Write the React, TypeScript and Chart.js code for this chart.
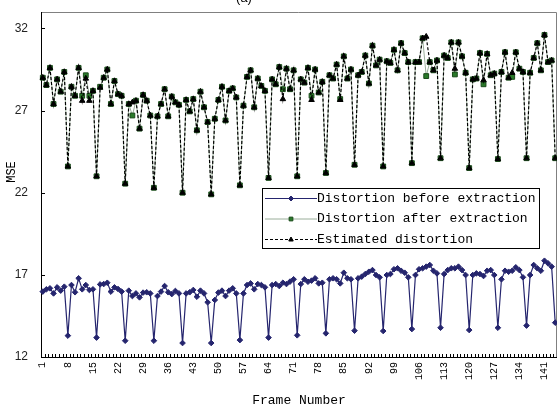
import React, { useEffect, useRef } from 'react';
import { Chart, registerables } from 'chart.js';
Chart.register(...registerables);

// Frame numbers (categories)
const frames: string[] = Array.from({ length: 144 }, (_, i) => String(i + 1));
// Frames that carry a tick label
const labelledFrames = [1, 8, 15, 22, 29, 36, 43, 50, 57, 64, 71, 78, 85, 92, 99, 106, 113, 120, 127, 134, 141];
const yTicks = [12, 17, 22, 27, 32];

const seriesLabels = ['Distortion before extraction', 'Distortion after extraction', 'Estimated distortion'];
const yTitle = 'MSE';
const xTitle = 'Frame Number';

const beforeExtraction = [
  15.98, 16.12, 16.18, 15.87, 16.24, 16.04, 16.28, 13.3,
  16.38, 15.94, 16.79, 16.12, 16.38, 16.08, 16.12, 13.18,
  16.42, 16.44, 16.52, 15.98, 16.24, 16.14, 15.98, 12.99,
  16.04, 15.71, 15.87, 15.63, 15.92, 15.94, 15.87, 12.99,
  15.71, 15.98, 16.32, 15.94, 15.83, 16.02, 15.87, 12.85,
  15.87, 15.94, 16.08, 15.67, 16.04, 15.87, 15.33, 12.85,
  15.47, 15.92, 16.04, 15.71, 16.04, 16.18, 15.87, 13.03,
  15.87, 16.38, 16.48, 16.12, 16.44, 16.38, 16.24, 13.18,
  16.38, 16.44, 16.32, 16.52, 16.44, 16.59, 16.73, 13.32,
  16.44, 16.73, 16.58, 16.65, 16.79, 16.48, 16.52, 13.44,
  16.73, 16.79, 16.73, 16.48, 17.13, 16.79, 16.73, 13.6,
  16.79, 16.89, 17.05, 17.19, 17.29, 16.99, 16.85, 13.58,
  16.99, 17.05, 17.34, 17.4, 17.25, 17.13, 16.85, 13.7,
  16.99, 17.34, 17.4, 17.5, 17.6, 17.25, 17.09, 13.78,
  17.05, 17.29, 17.4, 17.4, 17.5, 17.29, 16.99, 13.64,
  16.99, 17.09, 17.05, 16.93, 17.25, 17.29, 16.99, 13.78,
  16.73, 17.25, 17.19, 17.25, 17.46, 17.29, 16.85, 13.91,
  16.99, 17.6, 17.4, 17.25, 17.86, 17.7, 17.5, 14.09,
];

const afterExtraction = [
  29.0, 28.55, 29.6, 27.4, 28.9, 28.15, 29.35, 23.6,
  28.45, 27.9, 29.6, 27.9, 29.15, 27.9, 28.2, 23.0,
  28.45, 29.0, 29.5, 27.4, 28.8, 28.0, 27.9, 22.55,
  27.4, 26.7, 27.6, 25.9, 27.95, 27.6, 26.7, 22.3,
  26.65, 27.4, 28.3, 26.65, 27.85, 27.5, 27.35, 22.0,
  27.65, 26.95, 27.7, 25.8, 28.15, 27.2, 26.3, 21.9,
  26.5, 27.65, 28.45, 26.4, 28.2, 28.35, 27.8, 22.45,
  27.3, 29.05, 29.45, 27.2, 28.95, 28.5, 28.2, 22.9,
  28.9, 28.6, 29.65, 28.3, 29.55, 28.3, 29.45, 23.0,
  28.9, 28.7, 29.6, 27.9, 29.5, 28.1, 28.75, 23.2,
  29.15, 28.95, 29.8, 27.7, 30.3, 28.95, 29.5, 23.7,
  29.15, 29.35, 30.35, 28.65, 30.95, 29.75, 30.1, 23.6,
  30.0, 29.9, 30.7, 29.45, 31.1, 30.5, 29.95, 23.8,
  29.95, 29.95, 31.4, 29.1, 29.95, 29.45, 30.05, 24.1,
  30.35, 30.2, 31.15, 29.2, 31.15, 30.3, 29.3, 23.5,
  28.9, 28.95, 30.5, 28.6, 30.45, 29.15, 29.25, 24.05,
  29.35, 30.55, 29.0, 29.05, 30.55, 29.55, 29.35, 24.1,
  29.3, 30.2, 31.1, 29.45, 31.6, 29.95, 30.05, 24.1,
];

const estimated = [
  29.0, 28.55, 29.6, 27.4, 28.9, 28.15, 29.35, 23.6,
  28.45, 27.9, 29.6, 27.6, 28.95, 27.6, 28.2, 23.0,
  28.4, 29.0, 29.5, 27.4, 28.8, 28.0, 27.9, 22.55,
  27.4, 27.5, 27.6, 25.9, 27.95, 27.6, 26.7, 22.3,
  26.65, 27.4, 28.3, 26.65, 27.85, 27.5, 27.35, 22.0,
  27.65, 26.95, 27.7, 25.8, 28.15, 27.2, 26.3, 21.9,
  26.5, 27.65, 28.45, 26.4, 28.2, 28.35, 27.8, 22.45,
  27.3, 29.05, 29.45, 27.2, 28.95, 28.5, 28.2, 22.9,
  28.9, 28.6, 29.65, 27.7, 29.55, 28.3, 29.45, 23.0,
  28.9, 28.7, 29.6, 27.65, 29.5, 28.1, 28.75, 23.2,
  29.15, 28.95, 29.8, 27.65, 30.3, 28.95, 29.5, 23.7,
  29.15, 29.35, 30.35, 28.65, 30.95, 29.75, 30.1, 23.6,
  30.0, 29.9, 30.7, 29.45, 31.1, 30.5, 29.95, 23.8,
  29.95, 29.95, 31.4, 31.5, 29.95, 29.45, 30.05, 24.1,
  30.35, 30.2, 31.15, 29.55, 31.15, 30.3, 29.3, 23.5,
  28.9, 28.95, 30.5, 28.85, 30.45, 29.15, 29.25, 24.05,
  29.35, 30.55, 29.0, 29.3, 30.55, 29.55, 29.35, 24.1,
  29.3, 30.2, 31.1, 29.45, 31.6, 29.95, 30.05, 24.1,
];

const NAVY = '#25256e';
const GREEN_FILL = '#2a7a2a';
const GREEN_EDGE = '#1a4a1a';
const GREEN_LINE = '#9aae9a';

function drawMarker(ctx: CanvasRenderingContext2D, style: string, x: number, y: number, r: number, fill: string, stroke: string) {
  ctx.save();
  ctx.fillStyle = fill;
  ctx.strokeStyle = stroke;
  ctx.lineWidth = 1;
  ctx.setLineDash([]);
  ctx.beginPath();
  if (style === 'rectRot') {
    ctx.moveTo(x, y - r);
    ctx.lineTo(x + r, y);
    ctx.lineTo(x, y + r);
    ctx.lineTo(x - r, y);
  } else if (style === 'rect') {
    ctx.rect(x - r * 0.75, y - r * 0.75, r * 1.5, r * 1.5);
  } else {
    ctx.moveTo(x, y - r);
    ctx.lineTo(x + r * 0.9, y + r * 0.6);
    ctx.lineTo(x - r * 0.9, y + r * 0.6);
  }
  ctx.closePath();
  ctx.fill();
  ctx.stroke();
  ctx.restore();
}

const framePlugin = {
  id: 'frameDecor',
  beforeDatasetsDraw(chart: any) {
    const { ctx, chartArea: a, scales } = chart;
    const x = scales.x;
    const y = scales.y;
    ctx.save();
    // grey plot border top / right
    ctx.strokeStyle = '#808080';
    ctx.lineWidth = 1;
    ctx.beginPath();
    ctx.moveTo(a.left, a.top + 0.5);
    ctx.lineTo(a.right - 0.5, a.top + 0.5);
    ctx.lineTo(a.right - 0.5, a.bottom);
    ctx.stroke();
    // black axes
    ctx.strokeStyle = '#000';
    ctx.beginPath();
    ctx.moveTo(a.left + 0.5, a.top);
    ctx.lineTo(a.left + 0.5, a.bottom + 0.5);
    ctx.lineTo(a.right, a.bottom + 0.5);
    ctx.stroke();
    // minor ticks at category boundaries (inside)
    ctx.beginPath();
    for (let i = 0; i <= frames.length; i++) {
      const px = Math.round(x.getPixelForValue(i - 0.5)) + 0.5;
      ctx.moveTo(px, a.bottom);
      ctx.lineTo(px, a.bottom - 3);
    }
    yTicks.forEach((v) => {
      const py = Math.round(y.getPixelForValue(v)) + 0.5;
      ctx.moveTo(a.left, py);
      ctx.lineTo(a.left + 4, py);
    });
    ctx.stroke();
    // partially visible title
    ctx.fillStyle = '#000';
    ctx.font = '13px "Liberation Sans"';
    ctx.textAlign = 'center';
    ctx.textBaseline = 'alphabetic';
    ctx.fillText('(a)', 244, 2);
    // y axis title
    ctx.save();
    ctx.translate(12, 172);
    ctx.rotate(-Math.PI / 2);
    ctx.font = '12px "Liberation Mono"';
    ctx.textAlign = 'center';
    ctx.textBaseline = 'middle';
    ctx.fillText(yTitle, 0, 0);
    ctx.restore();
    ctx.restore();
  },
};

const legendPlugin = {
  id: 'boxLegend',
  afterDraw(chart: any) {
    const { ctx } = chart;
    const left = 262, top = 188, w = 278, h = 61;
    ctx.save();
    ctx.fillStyle = '#fff';
    ctx.fillRect(left, top, w, h);
    ctx.strokeStyle = '#000';
    ctx.lineWidth = 1;
    ctx.strokeRect(left + 0.5, top + 0.5, w - 1, h - 1);
    const sorted = [...chart.data.datasets].sort((a: any, b: any) => b.order - a.order);
    sorted.forEach((ds: any, i: number) => {
      const yy = top + 10.5 + i * 20.5;
      ctx.strokeStyle = ds.borderColor;
      ctx.lineWidth = ds.borderWidth;
      ctx.setLineDash(ds.borderDash || []);
      ctx.beginPath();
      ctx.moveTo(left + 3, yy);
      ctx.lineTo(left + 55, yy);
      ctx.stroke();
      ctx.setLineDash([]);
      drawMarker(ctx, ds.pointStyle, left + 29, yy, 2.5, ds.pointBackgroundColor, ds.pointBorderColor);
      ctx.fillStyle = '#000';
      ctx.font = '13px "Liberation Mono"';
      ctx.textAlign = 'left';
      ctx.textBaseline = 'middle';
      ctx.fillText(ds.label, left + 55, yy);
    });
    ctx.restore();
  },
};

export default function App() {
  const ref = useRef<HTMLCanvasElement | null>(null);
  useEffect(() => {
    document.body.style.margin = '0';
    if (!ref.current) return;
    const chart = new Chart(ref.current, {
      type: 'line',
      data: {
        labels: frames,
        datasets: [
          {
            label: seriesLabels[0],
            data: beforeExtraction,
            order: 2,
            borderColor: NAVY,
            borderWidth: 1.2,
            pointStyle: 'rectRot',
            pointRadius: 2.8,
            pointBackgroundColor: NAVY,
            pointBorderColor: NAVY,
            pointBorderWidth: 1,
            tension: 0,
          },
          {
            label: seriesLabels[1],
            data: afterExtraction,
            order: 1,
            borderColor: GREEN_LINE,
            borderWidth: 1,
            pointStyle: 'rect',
            pointRadius: 3.4,
            pointBackgroundColor: GREEN_FILL,
            pointBorderColor: GREEN_EDGE,
            pointBorderWidth: 1,
            tension: 0,
          },
          {
            label: seriesLabels[2],
            data: estimated,
            order: 0,
            borderColor: '#000',
            borderWidth: 1.2,
            borderDash: [3, 2],
            pointStyle: 'triangle',
            pointRadius: 3.2,
            pointBackgroundColor: '#000',
            pointBorderColor: '#000',
            pointBorderWidth: 1,
            tension: 0,
          },
        ],
      },
      options: {
        animation: false,
        responsive: false,
        layout: { autoPadding: false, padding: { top: 12, right: 0, left: 0, bottom: 0 } },
        plugins: {
          legend: { display: false },
          tooltip: { enabled: false },
          title: { display: false },
        },
        scales: {
          x: {
            type: 'category',
            offset: true,
            grid: { display: false, drawTicks: false, offset: true },
            border: { display: false },
            ticks: {
              autoSkip: false,
              minRotation: 90,
              maxRotation: 90,
              padding: 5,
              color: '#000',
              font: { family: 'Liberation Mono', size: 10 },
              callback: (_v: any, index: number) => {
                const f = Number(frames[index]);
                return labelledFrames.includes(f) ? String(f) : '';
              },
            },
            title: {
              display: true,
              text: xTitle,
              color: '#000',
              font: { family: 'Liberation Mono', size: 13 },
              padding: { top: 2, bottom: 0 },
            },
            afterFit: (scale: any) => {
              scale.height = 51;
              scale.paddingLeft = 0;
              scale.paddingRight = 0;
            },
          },
          y: {
            min: 12,
            max: 33,
            afterBuildTicks: (axis: any) => {
              axis.ticks = yTicks.map((v) => ({ value: v }));
            },
            grid: { display: false, drawTicks: false },
            border: { display: false },
            ticks: {
              padding: 13,
              color: '#222',
              font: { family: 'Liberation Sans', size: 12 },
            },
            title: { display: false },
            afterFit: (scale: any) => {
              scale.width = 41;
              scale.paddingTop = 0;
              scale.paddingBottom = 0;
            },
          },
        },
      },
      plugins: [framePlugin, legendPlugin],
    } as any);
    return () => chart.destroy();
  }, []);
  return (
    <div style={{ position: 'absolute', left: 0, top: 0, width: 557, height: 408, background: '#fff' }}>
      <canvas ref={ref} width={557} height={408} style={{ display: 'block' }} />
    </div>
  );
}
